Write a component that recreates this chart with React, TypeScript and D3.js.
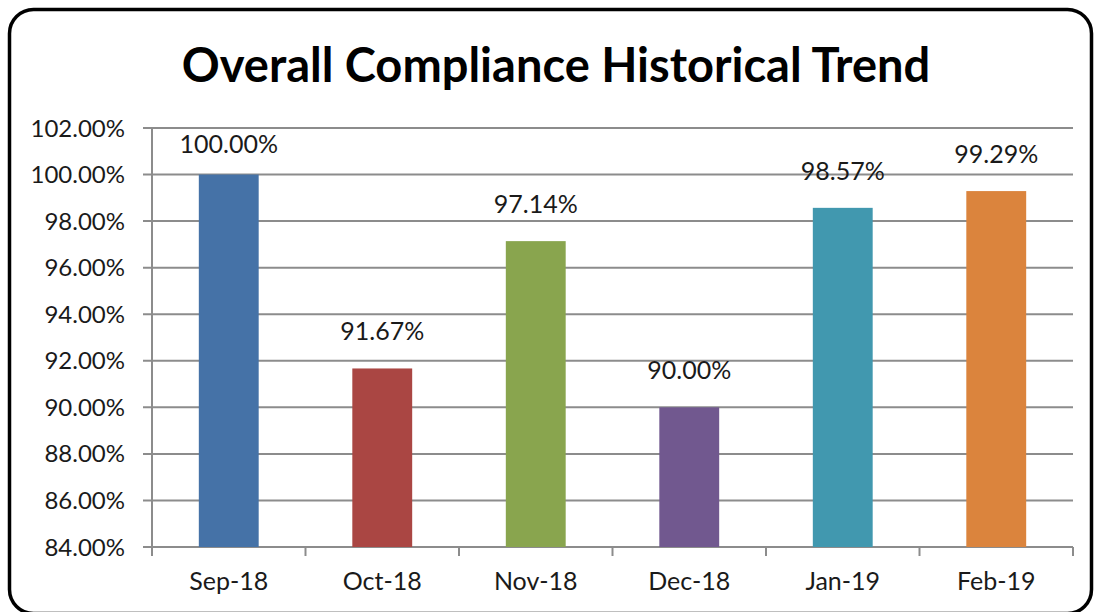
import React from "react";
import * as d3 from "d3";

const categories = ["Sep-18", "Oct-18", "Nov-18", "Dec-18", "Jan-19", "Feb-19"];
const values = [100.0, 91.67, 97.14, 90.0, 98.57, 99.29];
const colors = ["#4572A7", "#AA4643", "#89A54E", "#71588F", "#4198AF", "#DB843D"];
const yTicks = [84, 86, 88, 90, 92, 94, 96, 98, 100, 102];
const title = "Overall Compliance Historical Trend";

const W = 1094;
const H = 612;
const plot = { left: 152, right: 1073, top: 128, bottom: 547 };
const FONT = "Lato, 'Open Sans', sans-serif";

export default function App() {
  const x = d3
    .scaleBand<string>()
    .domain(categories)
    .range([plot.left, plot.right])
    .padding(0);
  const y = d3.scaleLinear().domain([84, 102]).range([plot.bottom, plot.top]);
  const barW = x.bandwidth() * 0.39;
  const gridColor = "#8c8c8c";

  return (
    <svg
      width={W}
      height={H}
      style={{ position: "absolute", left: 0, top: 0, background: "#fff" }}
    >
      <rect x={0} y={0} width={W} height={H} fill="#fff" />
      <rect
        x={9.5}
        y={9.5}
        width={1082}
        height={604}
        rx={24}
        ry={24}
        fill="none"
        stroke="#000"
        strokeWidth={3.5}
      />
      <text
        x={556}
        y={82}
        textAnchor="middle"
        fontFamily={FONT}
        fontWeight={700}
        fontSize={47}
        fill="#000"
      >
        {title}
      </text>

      {/* gridlines */}
      {yTicks.map((t) => (
        <line
          key={"g" + t}
          x1={plot.left - 9}
          x2={plot.right}
          y1={y(t)}
          y2={y(t)}
          stroke={gridColor}
          strokeWidth={2}
        />
      ))}
      {/* y labels */}
      {yTicks.map((t) => (
        <text
          key={"yl" + t}
          x={125}
          y={y(t) + 8.5}
          textAnchor="end"
          fontFamily={FONT}
          fontSize={24}
          fill="#1a1a1a"
        >
          {t.toFixed(2) + "%"}
        </text>
      ))}

      {/* bars */}
      {categories.map((c, i) => {
        const cx = (x(c) as number) + x.bandwidth() / 2;
        return (
          <rect
            key={"b" + c}
            x={cx - barW / 2}
            y={y(values[i])}
            width={barW}
            height={y(84) - y(values[i])}
            fill={colors[i]}
          />
        );
      })}

      {/* axes */}
      <line
        x1={plot.left}
        x2={plot.left}
        y1={plot.top}
        y2={plot.bottom + 9}
        stroke={gridColor}
        strokeWidth={2}
      />
      {categories.map((c) => (
        <line
          key={"xt" + c}
          x1={(x(c) as number) + x.bandwidth()}
          x2={(x(c) as number) + x.bandwidth()}
          y1={plot.bottom}
          y2={plot.bottom + 9}
          stroke={gridColor}
          strokeWidth={2}
        />
      ))}

      {/* x labels */}
      {categories.map((c) => (
        <text
          key={"xl" + c}
          x={(x(c) as number) + x.bandwidth() / 2}
          y={590}
          textAnchor="middle"
          fontFamily={FONT}
          fontSize={25}
          fill="#1a1a1a"
        >
          {c}
        </text>
      ))}

      {/* data labels */}
      {categories.map((c, i) => {
        const cx = (x(c) as number) + x.bandwidth() / 2;
        const ly = Math.max(y(values[i]) - 28, plot.top + 25);
        return (
          <text
            key={"dl" + c}
            x={cx}
            y={ly}
            textAnchor="middle"
            fontFamily={FONT}
            fontSize={25}
            fill="#1a1a1a"
          >
            {values[i].toFixed(2) + "%"}
          </text>
        );
      })}
    </svg>
  );
}
